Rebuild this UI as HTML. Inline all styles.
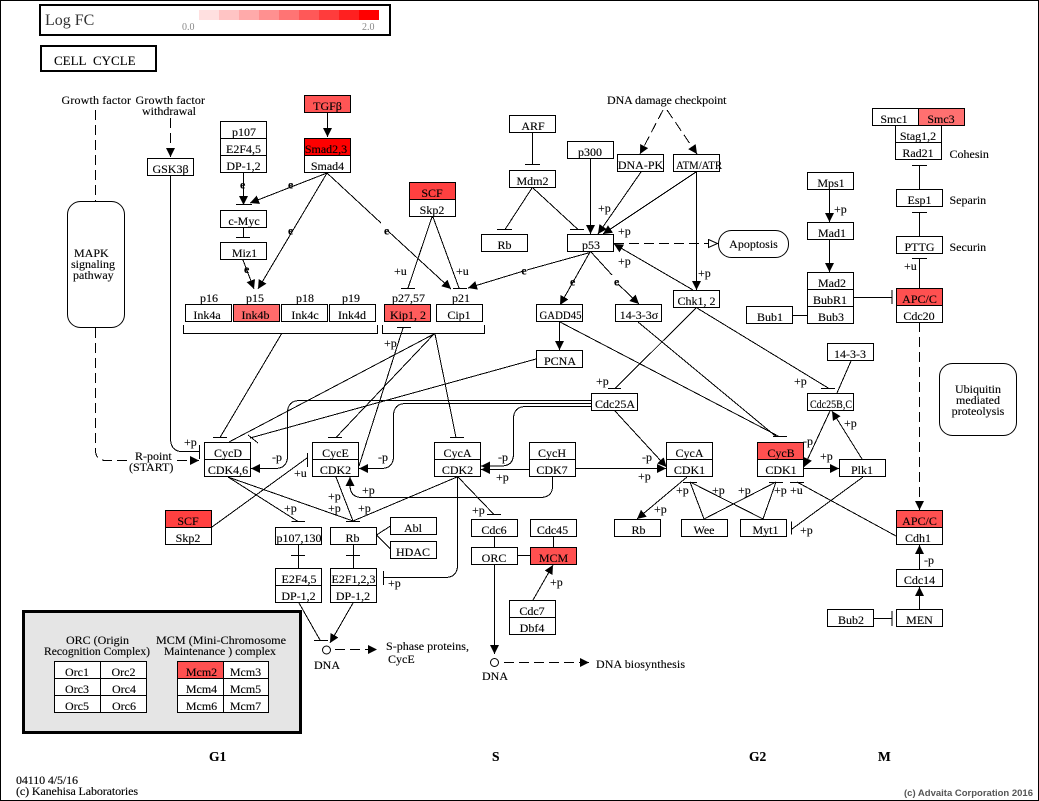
<!DOCTYPE html>
<html>
<head>
<meta charset="utf-8">
<style>
html,body{margin:0;padding:0;background:#fff;width:1039px;height:801px;overflow:hidden}
svg{display:block}
text{font-family:"Liberation Serif",serif;font-size:12px;fill:#000;stroke:#000;stroke-width:.12}
.c{text-anchor:middle}
.l line,.l path{stroke:#000;stroke-width:1;fill:none;shape-rendering:crispEdges}
.a{marker-end:url(#arr)}
.d{stroke-dasharray:10 5}
.b rect{stroke:#000;stroke-width:1;fill:#fff;shape-rendering:crispEdges}
.e{font-weight:bold;font-size:12px;text-anchor:middle}
.ph{font-weight:bold;font-size:13.5px}
</style>
</head>
<body>
<svg width="1039" height="801" viewBox="0 0 1039 801" xmlns="http://www.w3.org/2000/svg">
<defs>
<marker id="arr" markerUnits="userSpaceOnUse" markerWidth="12" markerHeight="12" refX="9" refY="4.5" orient="auto"><path d="M0 0L9 4.5L0 9Z" fill="#000"/></marker>
<marker id="open" markerUnits="userSpaceOnUse" markerWidth="12" markerHeight="12" refX="10" refY="4.5" orient="auto"><path d="M0.5 0.5L9.5 4.5L0.5 8.5Z" fill="#fff" stroke="#000"/></marker>
</defs>
<rect x="0.5" y="0.5" width="1038" height="800" fill="#fff" stroke="#000" shape-rendering="crispEdges"/>

<!-- legend -->
<rect x="40" y="5" width="350" height="30" fill="#fff" stroke="#000" stroke-width="2" shape-rendering="crispEdges"/>
<text x="45" y="25" style="font-size:16px;fill:#333;stroke:none">Log FC</text>
<g shape-rendering="crispEdges">
<rect x="199" y="10" width="20" height="10" fill="#ffe0e0"/>
<rect x="219" y="10" width="20" height="10" fill="#ffc4c4"/>
<rect x="239" y="10" width="20" height="10" fill="#ffaaaa"/>
<rect x="259" y="10" width="20" height="10" fill="#ff9090"/>
<rect x="279" y="10" width="20" height="10" fill="#ff7474"/>
<rect x="299" y="10" width="20" height="10" fill="#ff5858"/>
<rect x="319" y="10" width="20" height="10" fill="#ff3c3c"/>
<rect x="339" y="10" width="20" height="10" fill="#ff2020"/>
<rect x="359" y="10" width="20" height="10" fill="#ff0000"/>
</g>
<text x="182" y="30" style="font-size:10px;fill:#888;stroke:none">0.0</text>
<text x="362" y="30" style="font-size:10px;fill:#888;stroke:none">2.0</text>
<rect x="41" y="46" width="115" height="25" fill="#fff" stroke="#000" stroke-width="2" shape-rendering="crispEdges"/>
<text x="54" y="65" style="font-size:13px">CELL&#160;&#160;CYCLE</text>

<!-- connectors -->
<g class="l">
<line class="d" x1="95.5" y1="110" x2="95.5" y2="201"/>
<path class="d" d="M95.5 328V450Q95.5 460.5 106 460.5H128"/>
<line class="d a" x1="177" y1="460.5" x2="199" y2="460.5"/>
<line class="d a" x1="170.5" y1="118" x2="170.5" y2="157"/>
<path d="M170.5 175V438Q170.5 451.5 182 451.5H199"/>
<line x1="199.5" y1="445" x2="199.5" y2="459"/>
<line class="a" x1="327.5" y1="112" x2="327.5" y2="137"/>
<line class="a" x1="243.5" y1="172" x2="243.5" y2="205"/>
<line x1="236" y1="204.5" x2="252" y2="204.5"/>
<line class="a" x1="327" y1="173" x2="250" y2="203"/>
<line class="a" x1="327" y1="173" x2="258" y2="289"/>
<line x1="327" y1="173" x2="381" y2="223"/>
<line class="a" x1="388" y1="231" x2="451" y2="289"/>
<line x1="243.5" y1="227" x2="243.5" y2="237.5"/>
<line x1="236" y1="237.5" x2="250" y2="237.5"/>
<line class="a" x1="243" y1="260" x2="254" y2="289"/>
<line x1="432" y1="217" x2="408" y2="288"/>
<line x1="401" y1="288.5" x2="415" y2="288.5"/>
<line x1="433" y1="217" x2="459" y2="288"/>
<line x1="453" y1="288.5" x2="467" y2="288.5"/>
<path d="M183.5 325V333.5H377.5V325"/>
<path d="M382.5 325V333.5H484.5V325"/>
<line x1="397" y1="327.5" x2="411" y2="327.5"/>
<line x1="403" y1="328" x2="359" y2="466"/>
<line x1="281.7" y1="333.5" x2="220" y2="437.5"/>
<line x1="213" y1="437.5" x2="227" y2="437.5"/>
<line x1="434" y1="334" x2="229" y2="442"/>
<line x1="434" y1="334" x2="336" y2="437.5"/>
<line x1="328" y1="437.5" x2="342" y2="437.5"/>
<line x1="435" y1="334" x2="456" y2="437.5"/>
<line x1="450" y1="437.5" x2="464" y2="437.5"/>
<line x1="536" y1="359" x2="250" y2="438"/>
<line x1="248" y1="435" x2="258" y2="443"/>
<path class="a" d="M591.5 400.5H300Q287.5 400.5 287.5 413V456Q287.5 468.5 275 468.5H251"/>
<path class="a" d="M591.5 403.5H406Q393.5 403.5 393.5 416V456Q393.5 468.5 381 468.5H359"/>
<path class="a" d="M591.5 406.5H526Q513.5 406.5 513.5 419V454Q513.5 466 501 466H481"/>
<line class="a" x1="529.5" y1="469.5" x2="481" y2="469.5"/>
<line class="a" x1="615" y1="411" x2="666.5" y2="467"/>
<line class="a" x1="575.5" y1="468.5" x2="666" y2="468.5"/>
<path class="a" d="M552.5 476.5V486Q552.5 497.5 540 497.5H362Q350 497.5 350 485V477"/>
<line x1="228" y1="477" x2="298" y2="521.5"/>
<line x1="291.5" y1="521.5" x2="305" y2="521.5"/>
<line x1="228" y1="477" x2="353" y2="521"/>
<line x1="336" y1="477" x2="353" y2="521"/>
<line x1="457" y1="477" x2="353" y2="521"/>
<line x1="346" y1="521.5" x2="360" y2="521.5"/>
<path d="M457.5 477V565Q457.5 577.5 445 577.5H384"/>
<line x1="383.5" y1="571" x2="383.5" y2="585"/>
<line x1="458" y1="477" x2="494" y2="514.5"/>
<line x1="487" y1="514.5" x2="501" y2="514.5"/>
<line x1="212" y1="527" x2="307" y2="458"/>
<line x1="307.5" y1="453" x2="307.5" y2="467"/>
<line x1="376.5" y1="535" x2="390.5" y2="526"/>
<line x1="376.5" y1="535" x2="390.5" y2="549"/>
<line x1="298.5" y1="544" x2="298.5" y2="568"/>
<line x1="291" y1="555.5" x2="305" y2="555.5"/>
<line x1="353.5" y1="544" x2="353.5" y2="568"/>
<line x1="346" y1="555.5" x2="360" y2="555.5"/>
<line x1="299" y1="603" x2="320" y2="640"/>
<line x1="314" y1="640.5" x2="328" y2="640.5"/>
<line class="a" x1="353" y1="603" x2="330" y2="643"/>
<line class="d a" x1="335" y1="649.5" x2="377" y2="649.5"/>
<line class="a" x1="494.5" y1="564" x2="494.5" y2="654"/>
<line class="d a" x1="504" y1="662.5" x2="589" y2="662.5"/>
<line x1="517" y1="555.5" x2="531" y2="555.5"/>
<line x1="494.5" y1="536" x2="494.5" y2="548"/>
<line x1="553.5" y1="536" x2="553.5" y2="548"/>
<line class="a" x1="533" y1="600" x2="553" y2="565"/>

<line class="d a" x1="663" y1="110" x2="640" y2="154"/>
<line class="d a" x1="667" y1="110" x2="697" y2="154"/>
<line class="a" x1="590.5" y1="158" x2="590.5" y2="234"/>
<line class="a" x1="641" y1="172" x2="598" y2="234"/>
<line class="a" x1="696" y1="172" x2="603" y2="234"/>
<line class="a" x1="696.5" y1="172" x2="696.5" y2="290"/>
<line x1="532.5" y1="132" x2="532.5" y2="164.5"/>
<line x1="525" y1="164.5" x2="540" y2="164.5"/>
<line x1="532" y1="188" x2="505" y2="229.5"/>
<line x1="497" y1="229.5" x2="512" y2="229.5"/>
<line x1="533" y1="188" x2="578" y2="229.5"/>
<line x1="570" y1="229.5" x2="584" y2="229.5"/>
<path class="d" d="M614 243.5H708"/>
<line marker-end="url(#open)" x1="708" y1="243.5" x2="718" y2="243.5"/>
<line class="a" x1="693" y1="290" x2="614" y2="244"/>
<line x1="590" y1="252.5" x2="527" y2="270"/>
<line class="a" x1="522" y1="271.5" x2="468" y2="288"/>
<line class="a" x1="590" y1="252" x2="560" y2="305"/>
<line x1="591" y1="252" x2="612" y2="275"/>
<line class="a" x1="618" y1="284" x2="639" y2="304"/>
<line class="a" x1="559.5" y1="322" x2="559.5" y2="350"/>
<line x1="560" y1="322" x2="779" y2="436.5"/>
<line x1="638" y1="322" x2="776" y2="436.5"/>
<line x1="773" y1="436.5" x2="787" y2="436.5"/>
<line x1="696" y1="308" x2="615" y2="388.5"/>
<line x1="608" y1="388.5" x2="621" y2="388.5"/>
<line x1="697" y1="308" x2="829" y2="388.5"/>
<line x1="821" y1="388.5" x2="835" y2="388.5"/>
<line x1="851" y1="361" x2="837" y2="393"/>
<line class="a" x1="829.5" y1="189" x2="829.5" y2="222"/>
<line class="a" x1="829.5" y1="239" x2="829.5" y2="272"/>
<line x1="853.5" y1="297.5" x2="892" y2="297.5"/>
<line x1="892" y1="290" x2="892" y2="304"/>
<line x1="792.5" y1="315.5" x2="807.5" y2="315.5"/>
<line x1="919.5" y1="258" x2="919.5" y2="288.5"/>
<line x1="912" y1="258.5" x2="927" y2="258.5"/>
<line x1="919.5" y1="212" x2="919.5" y2="236.5"/>
<line x1="912" y1="212.5" x2="927" y2="212.5"/>
<line x1="919.5" y1="165" x2="919.5" y2="189.5"/>
<line x1="912" y1="165.5" x2="927" y2="165.5"/>
<line class="d a" x1="919.5" y1="322" x2="919.5" y2="510"/>
<line class="a" x1="919.5" y1="569" x2="919.5" y2="545"/>
<line class="a" x1="919.5" y1="609" x2="919.5" y2="587"/>
<line x1="873.5" y1="618.5" x2="892" y2="618.5"/>
<line x1="892" y1="611" x2="892" y2="626"/>
<line class="a" x1="830" y1="411" x2="804" y2="467"/>
<line class="a" x1="862" y1="459" x2="832" y2="411"/>
<line class="a" x1="803.5" y1="468.5" x2="839" y2="468.5"/>
<line class="a" x1="687" y1="477" x2="637" y2="519"/>
<line x1="704" y1="519" x2="690" y2="482"/>
<line x1="763" y1="519" x2="690" y2="482"/>
<line x1="683" y1="482.5" x2="697" y2="482.5"/>
<line x1="704" y1="519" x2="776" y2="482"/>
<line x1="763" y1="519" x2="776" y2="482"/>
<line x1="769" y1="482.5" x2="783" y2="482.5"/>
<line x1="896" y1="536" x2="797" y2="482"/>
<line x1="790" y1="482.5" x2="804" y2="482.5"/>
<line x1="863" y1="477" x2="792" y2="529"/>
<line x1="791.5" y1="521.5" x2="791.5" y2="534.5"/>
</g>

<!-- ovals and circles -->
<g fill="#fff" stroke="#000">
<rect x="67.5" y="201.5" width="57" height="126" rx="13"/>
<rect x="718.5" y="230.5" width="70" height="27" rx="13"/>
<rect x="939.5" y="363.5" width="77" height="72" rx="13"/>
<circle cx="326.5" cy="650" r="4"/>
<circle cx="494.5" cy="662.5" r="4"/>
</g>

<!-- grey panel -->
<rect x="23.5" y="611.5" width="277" height="121" fill="#e5e5e5" stroke="#000" stroke-width="3" shape-rendering="crispEdges"/>

<!-- boxes -->
<g class="b">
<rect x="304.5" y="95.5" width="46" height="17" style="fill:#ff5555"/>
<rect x="220.5" y="121.5" width="46" height="17"/>
<rect x="220.5" y="138.5" width="46" height="17"/>
<rect x="220.5" y="155.5" width="46" height="17"/>
<rect x="147.5" y="158.5" width="46" height="17"/>
<rect x="304.5" y="138.5" width="46" height="17" style="fill:#ff0000"/>
<rect x="304.5" y="155.5" width="46" height="17"/>
<rect x="409.5" y="182.5" width="46" height="17" style="fill:#ff4040"/>
<rect x="409.5" y="199.5" width="46" height="17"/>
<rect x="220.5" y="210.5" width="46" height="17"/>
<rect x="220.5" y="242.5" width="46" height="17"/>
<rect x="185.5" y="304.5" width="46" height="17"/>
<rect x="233.5" y="304.5" width="46" height="17" style="fill:#ff6b6b"/>
<rect x="281.5" y="304.5" width="46" height="17"/>
<rect x="329.5" y="304.5" width="46" height="17"/>
<rect x="384.5" y="304.5" width="46" height="17" style="fill:#ff5c5c"/>
<rect x="436.5" y="304.5" width="46" height="17"/>
<rect x="481.5" y="234.5" width="46" height="17"/>
<rect x="509.5" y="115.5" width="46" height="17"/>
<rect x="509.5" y="170.5" width="46" height="17"/>
<rect x="567.5" y="141.5" width="46" height="17"/>
<rect x="617.5" y="154.5" width="46" height="17"/>
<rect x="673.5" y="154.5" width="46" height="17"/>
<rect x="567.5" y="234.5" width="46" height="17"/>
<rect x="536.5" y="304.5" width="46" height="17"/>
<rect x="615.5" y="304.5" width="46" height="17"/>
<rect x="673.5" y="290.5" width="46" height="17"/>
<rect x="536.5" y="350.5" width="46" height="17"/>
<rect x="591.5" y="393.5" width="46" height="17"/>
<rect x="807.5" y="172.5" width="46" height="17"/>
<rect x="807.5" y="222.5" width="46" height="17"/>
<rect x="807.5" y="272.5" width="46" height="17"/>
<rect x="807.5" y="289.5" width="46" height="17"/>
<rect x="807.5" y="306.5" width="46" height="17"/>
<rect x="746.5" y="306.5" width="46" height="17"/>
<rect x="827.5" y="343.5" width="46" height="17"/>
<rect x="807.5" y="393.5" width="46" height="17"/>
<rect x="872.5" y="108.5" width="46" height="17"/>
<rect x="918.5" y="108.5" width="46" height="17" style="fill:#ff7070"/>
<rect x="895.5" y="125.5" width="46" height="17"/>
<rect x="895.5" y="142.5" width="46" height="17"/>
<rect x="896.5" y="189.5" width="46" height="17"/>
<rect x="896.5" y="236.5" width="46" height="17"/>
<rect x="896.5" y="288.5" width="46" height="17" style="fill:#ff5050"/>
<rect x="896.5" y="305.5" width="46" height="17"/>
<rect x="204.5" y="442.5" width="46" height="17"/>
<rect x="204.5" y="459.5" width="46" height="17"/>
<rect x="312.5" y="442.5" width="46" height="17"/>
<rect x="312.5" y="459.5" width="46" height="17"/>
<rect x="434.5" y="442.5" width="46" height="17"/>
<rect x="434.5" y="459.5" width="46" height="17"/>
<rect x="529.5" y="442.5" width="46" height="17"/>
<rect x="529.5" y="459.5" width="46" height="17"/>
<rect x="666.5" y="442.5" width="46" height="17"/>
<rect x="666.5" y="459.5" width="46" height="17"/>
<rect x="757.5" y="442.5" width="46" height="17" style="fill:#ff5050"/>
<rect x="757.5" y="459.5" width="46" height="17"/>
<rect x="839.5" y="459.5" width="46" height="17"/>
<rect x="165.5" y="510.5" width="46" height="17" style="fill:#ff4040"/>
<rect x="165.5" y="527.5" width="46" height="17"/>
<rect x="275.5" y="527.5" width="46" height="17"/>
<rect x="330.5" y="527.5" width="46" height="17"/>
<rect x="390.5" y="517.5" width="46" height="17"/>
<rect x="390.5" y="541.5" width="46" height="17"/>
<rect x="275.5" y="568.5" width="46" height="17"/>
<rect x="275.5" y="585.5" width="46" height="17"/>
<rect x="330.5" y="568.5" width="46" height="17"/>
<rect x="330.5" y="585.5" width="46" height="17"/>
<rect x="471.5" y="519.5" width="46" height="17"/>
<rect x="471.5" y="547.5" width="46" height="17"/>
<rect x="530.5" y="519.5" width="46" height="17"/>
<rect x="530.5" y="547.5" width="46" height="17" style="fill:#ff5050"/>
<rect x="509.5" y="600.5" width="46" height="17"/>
<rect x="509.5" y="617.5" width="46" height="17"/>
<rect x="614.5" y="519.5" width="46" height="17"/>
<rect x="681.5" y="519.5" width="46" height="17"/>
<rect x="740.5" y="519.5" width="46" height="17"/>
<rect x="896.5" y="510.5" width="46" height="17" style="fill:#ff5050"/>
<rect x="896.5" y="527.5" width="46" height="17"/>
<rect x="896.5" y="569.5" width="46" height="17"/>
<rect x="896.5" y="609.5" width="46" height="17"/>
<rect x="827.5" y="609.5" width="46" height="17"/>
<rect x="54.5" y="661.5" width="46" height="17"/>
<rect x="100.5" y="661.5" width="46" height="17"/>
<rect x="54.5" y="678.5" width="46" height="17"/>
<rect x="100.5" y="678.5" width="46" height="17"/>
<rect x="54.5" y="695.5" width="46" height="17"/>
<rect x="100.5" y="695.5" width="46" height="17"/>
<rect x="177.5" y="661.5" width="46" height="17" style="fill:#ff5050"/>
<rect x="223.5" y="661.5" width="45" height="17"/>
<rect x="177.5" y="678.5" width="46" height="17"/>
<rect x="223.5" y="678.5" width="45" height="17"/>
<rect x="177.5" y="695.5" width="46" height="17"/>
<rect x="223.5" y="695.5" width="45" height="17"/>
</g>

<!-- box text -->
<g class="c">
<text class="c" x="327.5" y="110">TGFβ</text>
<text class="c" x="244" y="136">p107</text>
<text class="c" x="243.5" y="153">E2F4,5</text>
<text class="c" x="243.5" y="170">DP-1,2</text>
<text class="c" x="170.5" y="173">GSK3β</text>
<text class="c" x="326" y="153">Smad2,3</text>
<text class="c" x="327.5" y="170">Smad4</text>
<text class="c" x="432" y="197">SCF</text>
<text class="c" x="432" y="214">Skp2</text>
<text class="c" x="244" y="225">c-Myc</text>
<text class="c" x="244.5" y="257">Miz1</text>
<text class="c" x="207" y="319">Ink4a</text>
<text class="c" x="255.5" y="319">Ink4b</text>
<text class="c" x="305" y="319">Ink4c</text>
<text class="c" x="352" y="319">Ink4d</text>
<text class="c" x="408" y="319">Kip1, 2</text>
<text class="c" x="459" y="319">Cip1</text>
<text class="c" x="504.5" y="249">Rb</text>
<text class="c" x="533" y="130">ARF</text>
<text class="c" x="532.5" y="185">Mdm2</text>
<text class="c" x="590" y="156">p300</text>
<text class="c" x="640.5" y="169">DNA-PK</text>
<text class="c" x="699" y="169" textLength="46" lengthAdjust="spacingAndGlyphs">ATM/ATR</text>
<text class="c" x="591" y="249">p53</text>
<text class="c" x="560.5" y="319" textLength="42" lengthAdjust="spacingAndGlyphs">GADD45</text>
<text class="c" x="639" y="319">14-3-3σ</text>
<text class="c" x="696.5" y="305">Chk1, 2</text>
<text class="c" x="560" y="365">PCNA</text>
<text class="c" x="615" y="408">Cdc25A</text>
<text class="c" x="831" y="187">Mps1</text>
<text class="c" x="832" y="237">Mad1</text>
<text class="c" x="832" y="287">Mad2</text>
<text class="c" x="830" y="304">BubR1</text>
<text class="c" x="831" y="321">Bub3</text>
<text class="c" x="770" y="321">Bub1</text>
<text class="c" x="850" y="358">14-3-3</text>
<text class="c" x="831" y="408" textLength="42" lengthAdjust="spacingAndGlyphs">Cdc25B,C</text>
<text class="c" x="894" y="123">Smc1</text>
<text class="c" x="941" y="123">Smc3</text>
<text class="c" x="918" y="140">Stag1,2</text>
<text class="c" x="918" y="157">Rad21</text>
<text class="c" x="919.5" y="204">Esp1</text>
<text class="c" x="919.5" y="251">PTTG</text>
<text class="c" x="919.5" y="303">APC/C</text>
<text class="c" x="919" y="320">Cdc20</text>
<text class="c" x="228" y="457">CycD</text>
<text class="c" x="228" y="474">CDK4,6</text>
<text class="c" x="335.5" y="457">CycE</text>
<text class="c" x="335.5" y="474">CDK2</text>
<text class="c" x="457.5" y="457">CycA</text>
<text class="c" x="457.5" y="474">CDK2</text>
<text class="c" x="552" y="457">CycH</text>
<text class="c" x="552" y="474">CDK7</text>
<text class="c" x="689.5" y="457">CycA</text>
<text class="c" x="689.5" y="474">CDK1</text>
<text class="c" x="781" y="457">CycB</text>
<text class="c" x="781" y="474">CDK1</text>
<text class="c" x="862" y="474">Plk1</text>
<text class="c" x="188" y="525">SCF</text>
<text class="c" x="188" y="542">Skp2</text>
<text class="c" x="299" y="542">p107,130</text>
<text class="c" x="352.5" y="542">Rb</text>
<text class="c" x="413" y="532">Abl</text>
<text class="c" x="413" y="556">HDAC</text>
<text class="c" x="299" y="583">E2F4,5</text>
<text class="c" x="298.5" y="600">DP-1,2</text>
<text class="c" x="353.5" y="583">E2F1,2,3</text>
<text class="c" x="353" y="600">DP-1,2</text>
<text class="c" x="494" y="534">Cdc6</text>
<text class="c" x="494" y="562">ORC</text>
<text class="c" x="552.5" y="534">Cdc45</text>
<text class="c" x="553.5" y="562">MCM</text>
<text class="c" x="532" y="615">Cdc7</text>
<text class="c" x="532" y="632">Dbf4</text>
<text class="c" x="638.5" y="534">Rb</text>
<text class="c" x="704" y="534">Wee</text>
<text class="c" x="765.5" y="534">Myt1</text>
<text class="c" x="919.5" y="525">APC/C</text>
<text class="c" x="918" y="542">Cdh1</text>
<text class="c" x="919.5" y="584">Cdc14</text>
<text class="c" x="919.5" y="624">MEN</text>
<text class="c" x="851" y="624">Bub2</text>
<text class="c" x="77" y="676">Orc1</text>
<text class="c" x="123.5" y="676">Orc2</text>
<text class="c" x="77" y="693">Orc3</text>
<text class="c" x="124" y="693">Orc4</text>
<text class="c" x="77" y="710">Orc5</text>
<text class="c" x="124" y="710">Orc6</text>
<text class="c" x="201.5" y="676">Mcm2</text>
<text class="c" x="245.5" y="676">Mcm3</text>
<text class="c" x="201.5" y="693">Mcm4</text>
<text class="c" x="245.5" y="693">Mcm5</text>
<text class="c" x="201.5" y="710">Mcm6</text>
<text class="c" x="245.5" y="710">Mcm7</text>
</g>

<!-- labels -->
<text x="61.5" y="104" textLength="69.5">Growth factor</text>
<text x="135.5" y="104" textLength="69.5">Growth factor</text>
<text x="142" y="115" textLength="54">withdrawal</text>
<text x="74" y="257">MAPK</text>
<text x="71" y="268">signaling</text>
<text x="73" y="279">pathway</text>
<text x="607" y="104" textLength="119.5">DNA damage checkpoint</text>
<text x="949.5" y="158">Cohesin</text>
<text x="949.5" y="204">Separin</text>
<text x="949.5" y="251">Securin</text>
<text class="c" x="753.5" y="248">Apoptosis</text>
<text class="c" x="978" y="393">Ubiquitin</text>
<text class="c" x="978" y="404">mediated</text>
<text class="c" x="978" y="415">proteolysis</text>
<text x="200" y="302">p16</text>
<text x="246" y="302">p15</text>
<text x="296" y="302">p18</text>
<text x="342" y="302">p19</text>
<text x="392" y="302">p27,57</text>
<text x="452" y="302">p21</text>
<text x="135" y="460">R-point</text>
<text x="129" y="471">(START)</text>
<text x="66" y="644" textLength="63">ORC (Origin</text>
<text x="44" y="655" textLength="106" lengthAdjust="spacingAndGlyphs">Recognition Complex)</text>
<text x="156" y="644" textLength="130" lengthAdjust="spacingAndGlyphs">MCM (Mini-Chromosome</text>
<text x="164" y="655" textLength="112" lengthAdjust="spacingAndGlyphs">Maintenance ) complex</text>
<text x="386" y="650" textLength="83">S-phase proteins,</text>
<text x="388" y="663">CycE</text>
<text x="314" y="669">DNA</text>
<text x="482" y="680">DNA</text>
<text x="596" y="668" textLength="89">DNA biosynthesis</text>
<text class="ph" x="209" y="761">G1</text>
<text class="ph" x="492" y="761">S</text>
<text class="ph" x="749" y="761">G2</text>
<text class="ph" x="878" y="761">M</text>
<text x="16" y="784" textLength="62">04110 4/5/16</text>
<text x="16" y="795" textLength="122">(c) Kanehisa Laboratories</text>
<text x="1033" y="796" text-anchor="end" style="font-family:'Liberation Sans',sans-serif;font-weight:bold;font-size:9.5px;fill:#555;stroke:none">(c) Advaita Corporation 2016</text>

<!-- edge labels: e -->
<g>
<text class="e" x="242.7" y="188.5">e</text>
<text class="e" x="290.7" y="188.5">e</text>
<text class="e" x="290.7" y="234.5">e</text>
<text class="e" x="386.7" y="234.5">e</text>
<text class="e" x="246.7" y="273">e</text>
<text class="e" x="524" y="274.5">e</text>
<text class="e" x="572.7" y="285.5">e</text>
<text class="e" x="616.7" y="285.5">e</text>
</g>

<!-- edge labels: +p etc -->
<text x="394" y="275">+u</text>
<text x="456" y="275">+u</text>
<text x="384" y="347">+p</text>
<text x="598" y="212">+p</text>
<text x="618" y="235">+p</text>
<text x="618" y="265">+p</text>
<text x="698" y="277">+p</text>
<text x="834" y="213">+p</text>
<text x="904" y="270">+u</text>
<text x="596" y="385">+p</text>
<text x="794" y="385">+p</text>
<text x="184" y="446">+p</text>
<text x="272" y="461">-p</text>
<text x="294" y="477">+u</text>
<text x="378" y="461">-p</text>
<text x="498" y="461">-p</text>
<text x="496" y="481">+p</text>
<text x="362" y="494">+p</text>
<text x="328" y="500">+p</text>
<text x="328" y="512">+p</text>
<text x="284" y="512">+p</text>
<text x="358" y="512">+p</text>
<text x="472" y="514">+p</text>
<text x="388" y="587">+p</text>
<text x="642" y="461">-p</text>
<text x="638" y="480">+p</text>
<text x="676" y="494">+p</text>
<text x="712" y="494">+p</text>
<text x="738" y="494">+p</text>
<text x="774" y="494">+p</text>
<text x="790" y="494">+u</text>
<text x="654" y="513">+p</text>
<text x="800" y="534">+p</text>
<text x="550" y="586">+p</text>
<text x="803" y="445">-p</text>
<text x="844" y="427">+p</text>
<text x="820" y="460">+p</text>
<text x="924" y="564">-p</text>
</svg>
</body>
</html>
